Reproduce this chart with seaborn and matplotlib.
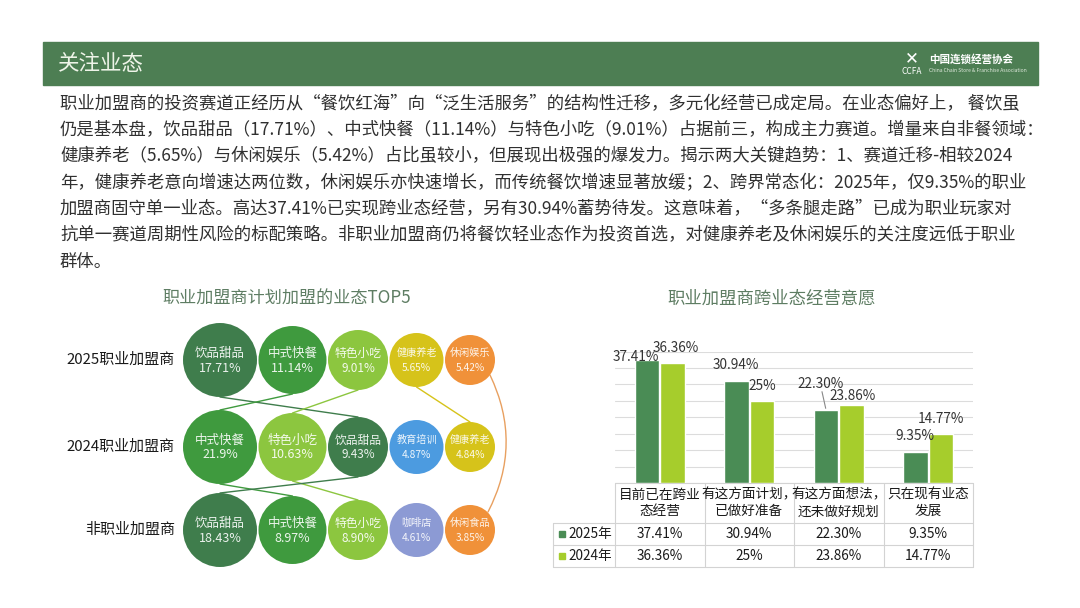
import matplotlib
matplotlib.use('Agg')
import matplotlib.pyplot as plt
import seaborn as sns
import pandas as pd
from matplotlib import transforms

# ---- data ----
row_labels = ['2025职业加盟商', '2024职业加盟商', '非职业加盟商']
cats_2025 = ['饮品甜品', '中式快餐', '特色小吃', '健康养老', '休闲娱乐']
vals_2025 = ['17.71', '11.14', '9.01', '5.65', '5.42']
cats_2024 = ['中式快餐', '特色小吃', '饮品甜品', '教育培训', '健康养老']
vals_2024 = ['21.9', '10.63', '9.43', '4.87', '4.84']
cats_non = ['饮品甜品', '中式快餐', '特色小吃', '咖啡店', '休闲食品']
vals_non = ['18.43', '8.97', '8.90', '4.61', '3.85']

bar_items = ['目前已在跨业\n态经营', '有这方面计划，\n已做好准备',
             '有这方面想法，\n还未做好规划', '只在现有业态\n发展']
bar_years = ['2025年', '2024年']
bar_2025 = ['37.41', '30.94', '22.30', '9.35']
bar_2024 = ['36.36', '25', '23.86', '14.77']

paragraph = [
    '职业加盟商的投资赛道正经历从“餐饮红海”向“泛生活服务”的结构性迁移，多元化经营已成定局。在业态偏好上， 餐饮虽',
    '仍是基本盘，饮品甜品（17.71%）、中式快餐（11.14%）与特色小吃（9.01%）占据前三，构成主力赛道。增量来自非餐领域：',
    '健康养老（5.65%）与休闲娱乐（5.42%）占比虽较小，但展现出极强的爆发力。揭示两大关键趋势：1、赛道迁移-相较2024',
    '年，健康养老意向增速达两位数，休闲娱乐亦快速增长，而传统餐饮增速显著放缓；2、跨界常态化：2025年，仅9.35%的职业',
    '加盟商固守单一业态。高达37.41%已实现跨业态经营，另有30.94%蓄势待发。这意味着，“多条腿走路”已成为职业玩家对',
    '抗单一赛道周期性风险的标配策略。非职业加盟商仍将餐饮轻业态作为投资首选，对健康养老及休闲娱乐的关注度远低于职业',
    '群体。',
]

# ---- style ----
cat_colors = {
    '饮品甜品': '#3f7d4c', '中式快餐': '#3f9a3e', '特色小吃': '#8cc63f',
    '健康养老': '#d6c31a', '休闲娱乐': '#f09139', '教育培训': '#4c9be0',
    '咖啡店': '#8c9ad4', '休闲食品': '#f09139',
}
year_colors = ['#4a8c55', '#a6cd2c']
header_green = '#4d7e53'
title_color = '#5e7d63'
radii = [37, 34, 30, 27, 25]            # bubble radius (px) by rank
bub_font = [9, 9, 8.5, 7.3, 7.3]
row_y = [360, 447, 530]

sns.set_theme(style='white')
plt.rcParams['font.family'] = ['Noto Sans CJK SC', 'DejaVu Sans']

fig = plt.figure(figsize=(10.8, 6.08), dpi=100)
ov = fig.add_axes([0, 0, 1, 1], zorder=0)
ov.set_xlim(0, 1080)
ov.set_ylim(608, 0)
ov.axis('off')

# header bar
ov.add_patch(plt.Rectangle((43, 42), 995, 43, color=header_green, zorder=1))
ov.text(58, 64, '关注业态', color='#eef4e8', fontsize=15.5, va='center', zorder=2)
ov.text(912, 59, '✕', color='white', fontsize=12, va='center', ha='center', zorder=2)
ov.text(912, 72, 'CCFA', color='white', fontsize=6, va='center', ha='center', zorder=2)
ov.text(929, 59, '中国连锁经营协会', color='white', fontsize=7.6, va='center',
        fontweight='bold', zorder=2)
ov.text(929, 71, 'China Chain Store & Franchise Association', color='#dfe9dc',
        fontsize=3.6, va='center', zorder=2)

# paragraph
for i, line in enumerate(paragraph):
    ov.text(60, 104 + 26.3 * i, line, fontsize=12.5, color='#303030', va='center')

# ---- bubble chart ----
ov.text(287, 299, '职业加盟商计划加盟的业态TOP5', fontsize=12.3, color=title_color,
        ha='center', va='center')

col_x = [220]
for k in range(1, 5):
    col_x.append(col_x[-1] + radii[k - 1] + radii[k] + 1.5)

rows = [(cats_2025, vals_2025), (cats_2024, vals_2024), (cats_non, vals_non)]
recs = []
for r, (cats, vals) in enumerate(rows):
    for k, (c, v) in enumerate(zip(cats, vals)):
        recs.append(dict(row=r, rank=f'r{k}', k=k, biz=c, label=v,
                         x=col_x[k], y=row_y[r]))
bub = pd.DataFrame(recs)
size_map = {f'r{k}': (2 * radii[k] * 0.72) ** 2 for k in range(5)}

sns.scatterplot(data=bub, x='x', y='y', hue='biz', palette=cat_colors,
                size='rank', sizes=size_map, legend=False, linewidth=0,
                alpha=1, ax=ov, zorder=3)

for _, b in bub.iterrows():
    fs = bub_font[b['k']]
    ov.text(b['x'], b['y'] - 7, b['biz'], color='white', fontsize=fs,
            ha='center', va='center', alpha=0.9, zorder=4)
    ov.text(b['x'], b['y'] + 8, b['label'] + '%', color='white', fontsize=fs,
            ha='center', va='center', alpha=0.9, zorder=4)

for r, lab in enumerate(row_labels):
    ov.text(175, row_y[r], lab, fontsize=10.8, color='#1a1a1a', ha='right', va='center')

# links between rows for the same category
for r in range(2):
    up, lo = rows[r][0], rows[r + 1][0]
    for ku, c in enumerate(up):
        if c in lo:
            kl = lo.index(c)
            ov.plot([col_x[ku], col_x[kl]],
                    [row_y[r] + radii[ku], row_y[r + 1] - radii[kl]],
                    color=cat_colors[c], lw=1, zorder=1.5)

# arc from 休闲娱乐 (2025) to 休闲食品 (non)
ku, kl = cats_2025.index('休闲娱乐'), cats_non.index('休闲食品')
ov.annotate('', xy=(col_x[kl] + radii[kl] * 0.72, row_y[2] - radii[kl] * 0.72),
            xytext=(col_x[ku] + radii[ku] * 0.8, row_y[0] + radii[ku] * 0.6),
            arrowprops=dict(arrowstyle='-', color='#e8a060', lw=1,
                            connectionstyle='arc3,rad=-0.25',
                            shrinkA=0, shrinkB=0), zorder=1.5)

# ---- bar chart ----
ov.text(772, 299, '职业加盟商跨业态经营意愿', fontsize=12.5, color=title_color,
        ha='center', va='center')

bar_df = pd.DataFrame({
    'item': bar_items * 2,
    'year': [bar_years[0]] * 4 + [bar_years[1]] * 4,
    'value': [float(v) for v in bar_2025 + bar_2024],
})

ax = fig.add_axes([615 / 1080, (608 - 483) / 608, 358 / 1080, 131.5 / 608], zorder=1)
ax.patch.set_alpha(0)
sns.barplot(data=bar_df, x='item', y='value', hue='year', hue_order=bar_years,
            palette=year_colors, saturation=1, width=0.57, gap=0.05,
            legend=False, ax=ax)
ax.set_ylim(0, 40)
ax.set_yticks(range(0, 41, 5))
ax.yaxis.grid(True, color='#dcdcdc', lw=0.8)
ax.set_axisbelow(True)
ax.tick_params(left=False, bottom=False, labelleft=False, labelbottom=False)
ax.set_xlabel('')
ax.set_ylabel('')
for s in ax.spines.values():
    s.set_visible(False)

# value labels: (dx, dy) offsets in pixels
label_off = [[(-11, 3), (-1, 16), (-5, 26), (-1, 16)],
             [(3, 15), (0, 15), (1, 9), (0, 15)]]
labels = [bar_2025, bar_2024]
for h, cont in enumerate(ax.containers):
    for i, p in enumerate(cont.patches):
        xc = p.get_x() + p.get_width() / 2
        top = p.get_height()
        dx, dy = label_off[h][i]
        ax.annotate(labels[h][i] + '%', (xc, top), xytext=(dx, dy),
                    textcoords='offset pixels', ha='center', va='center',
                    fontsize=9.8, color='#333333', annotation_clip=False)
# leader line for 22.30%
p = ax.containers[0].patches[2]
ax.annotate('', xy=(p.get_x() + p.get_width() / 2, p.get_height()),
            xytext=(-4, 18), textcoords='offset pixels',
            arrowprops=dict(arrowstyle='-', color='#888888', lw=0.8,
                            shrinkA=0, shrinkB=1))

# ---- data table under the bars ----
bt = transforms.blended_transform_factory(ax.transData, ov.transData)
grid_c = '#d3d3d3'
n = len(bar_items)
for i in range(n + 1):
    ov.plot([i - 0.5, i - 0.5], [483, 567], color=grid_c, lw=0.8, transform=bt)
ov.plot([-0.5, n - 0.5], [483, 483], color=grid_c, lw=0.8, transform=bt)
for yy in (523, 545, 567):
    ov.plot([553, 615], [yy, yy], color=grid_c, lw=0.8)
    ov.plot([-0.5, n - 0.5], [yy, yy], color=grid_c, lw=0.8, transform=bt)
ov.plot([553, 553], [523, 567], color=grid_c, lw=0.8)

for i, item in enumerate(bar_items):
    ov.text(i, 503, item, transform=bt, ha='center', va='center',
            fontsize=9.8, color='#1a1a1a', linespacing=1.25)
    ov.text(i, 534, bar_2025[i] + '%', transform=bt, ha='center', va='center',
            fontsize=9.8, color='#1a1a1a')
    ov.text(i, 556, bar_2024[i] + '%', transform=bt, ha='center', va='center',
            fontsize=9.8, color='#1a1a1a')

for j, (yr, yy) in enumerate(zip(bar_years, (534, 556))):
    ov.add_patch(plt.Rectangle((559, yy - 3), 6, 6, color=year_colors[j]))
    ov.text(568, yy, yr, fontsize=9.8, color='#1a1a1a', va='center')

ov.set_xlim(0, 1080)
ov.set_ylim(608, 0)

fig.savefig('out.png', dpi=100)
